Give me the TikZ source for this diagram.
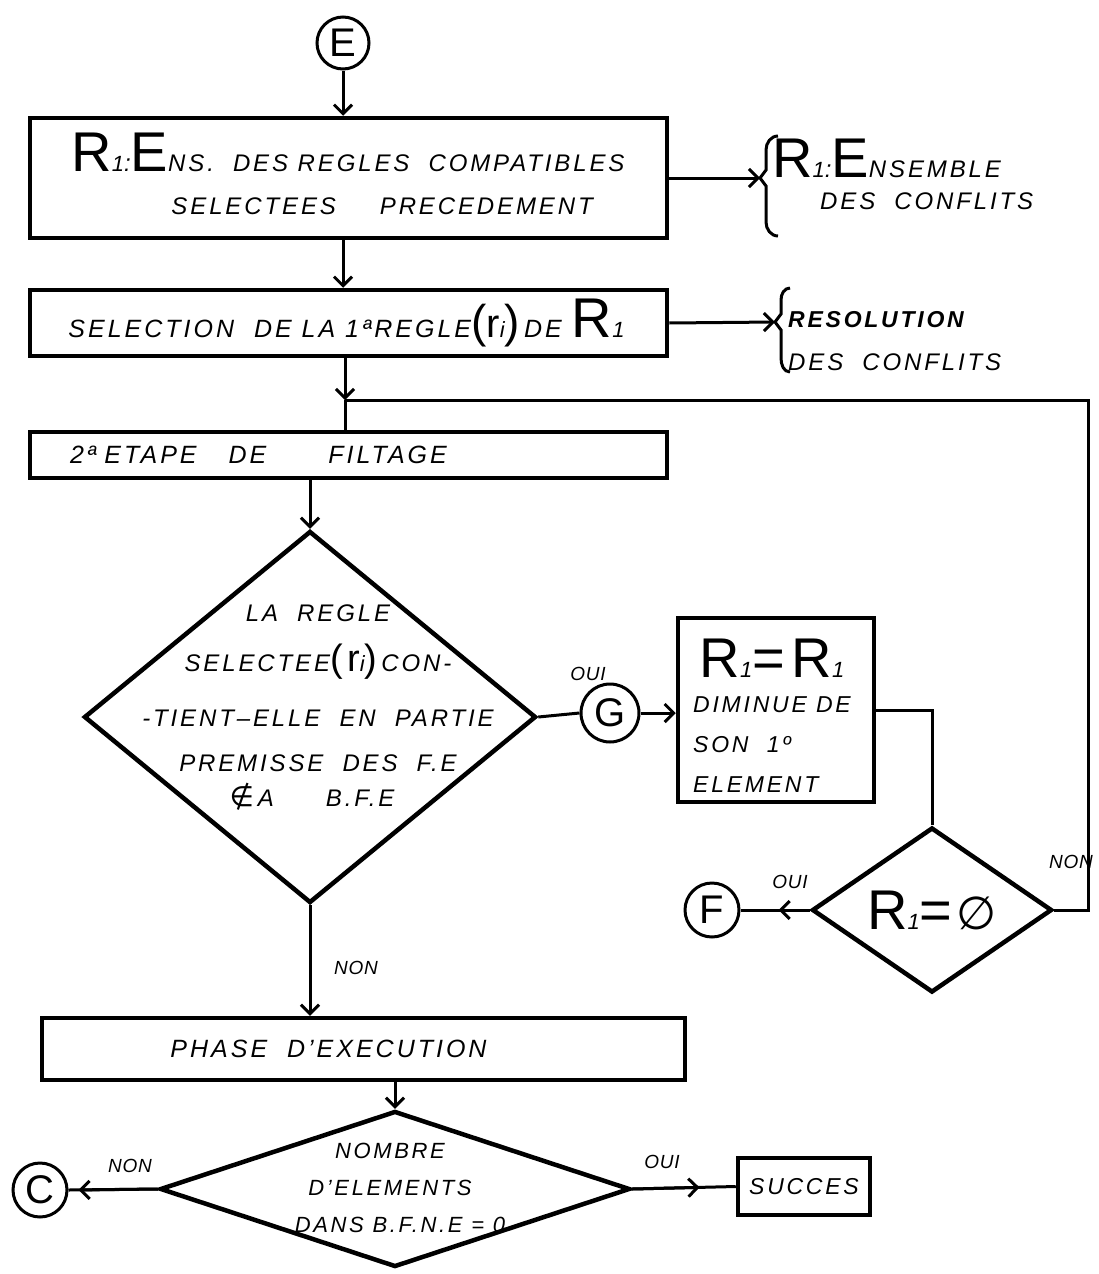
\documentclass[tikz,border=0pt]{standalone}
\usepackage{fontspec}
\setmainfont{Liberation Sans}[LetterSpace=12]
\newfontfamily\symfont{DejaVu Sans}
\newfontfamily\lblfont{Liberation Sans}[LetterSpace=4]
\usetikzlibrary{arrows.meta,shapes.geometric,calc}

% letter sizes used in the flowchart
\newcommand\bigL[1]{{\fontsize{56}{56}\selectfont\upshape #1}}
\newcommand\subL[1]{{\fontsize{22}{22}\selectfont\itshape #1}}
\newcommand\Rone{\bigL{R}\subL{1}}
\newcommand\fsz[1]{\fontsize{#1}{#1}\selectfont}

\begin{document}
\begin{tikzpicture}[x=1pt,y=-1pt,
  conn/.style={line width=3pt},
  arr/.style={conn,-{Straight Barb[length=9pt,width=18pt,line width=3pt]}},
  box/.style={draw,line width=4.5pt,inner sep=0pt},
  decision/.style={draw,diamond,line width=4.5pt,inner sep=0pt},
  txt/.style={inner sep=0pt,font=\fontsize{24}{30}\selectfont\itshape},
  lbl/.style={font=\lblfont\fontsize{19}{19}\selectfont\itshape},
  conncirc/.style={draw,circle,line width=3pt,inner sep=0pt,
    font=\fontsize{40}{40}\selectfont}]
\useasboundingbox (0,0) rectangle (1099,1274);

% ---- main column ----
\node[conncirc,minimum size=52pt] (E) at (343,43) {E};

\node[box,minimum width=637pt,minimum height=120pt] (b1) at (348.5,178) {};
\node[txt,align=left,font=\fontsize{24}{43}\selectfont\itshape] (b1t) at (348,174)
  {\Rone:\bigL{E}NS.\ \ DES REGLES\ \ COMPATIBLES\\
   \hspace*{100pt}SELECTEES\hspace{44pt}PRECEDEMENT};

\node[box,minimum width=637pt,minimum height=66pt,txt,font=\fontsize{25}{25}\selectfont\itshape] (b2) at (348.5,323)
  {\hspace*{-4pt}SELECTION\ \ DE LA\ 1ªREGLE{\fsz{46}\upshape(}{\fsz{40}\upshape r}\subL{i}{\fsz{46}\upshape)}\,DE\ \Rone};

\node[box,minimum width=637pt,minimum height=46pt,txt,font=\fontsize{25}{25}\selectfont\itshape,
  text width=597pt,align=left] (b3) at (348.5,455)
  {\hspace*{20pt}2ª ETAPE\hspace{32pt}DE\hspace{62pt}FILTAGE};

\node[decision,minimum width=452pt,minimum height=372pt] (d1) at (310,717) {};
\node[txt,align=center,font=\fontsize{24}{50}\selectfont\itshape] (d1t) at (318,708)
  {LA\ \ REGLE\\
   SELECTEE{\fsz{38}\upshape(r}\subL{i}{\fsz{38}\upshape)}\,CON-\\[5pt]
   -TIENT--ELLE\ \ EN\ \ PARTIE\\[-5pt]
   PREMISSE\ \ DES\ \ F.E\\[-15pt]
   {\symfont\fsz{28}∉}\,A\hspace{52pt}B.F.E\hspace*{12pt}};

\node[conncirc,minimum size=58pt] (G) at (610,713) {G};

\node[box,minimum width=196pt,minimum height=184pt] (b4) at (776,710) {};
\node[txt] (b4r) at (772,658) {\bigL{R}\subL{1}\bigL{=}\bigL{R}\subL{1}};
\node[txt,anchor=north west,align=left,font=\fontsize{23}{40}\selectfont\itshape] (b4t) at (693,696)
  {DIMINUE DE\\ SON\ \ 1º\\ ELEMENT};

\node[decision,minimum width=240pt,minimum height=165pt] (d2) at (932,910) {};
\node[txt] (d2t) at (932,910) {\bigL{R}\subL{1}\bigL{=}\,{\symfont\itshape\fsz{46}∅}};

\node[conncirc,minimum size=54pt] (F) at (712,910) {F};

\node[box,minimum width=643pt,minimum height=62pt,txt,font=\fontsize{25}{25}\selectfont\itshape] (b5) at (363.5,1049)
  {\hspace*{-70pt}PHASE\ \ D'EXECUTION};

\node[decision,minimum width=470pt,minimum height=156pt] (d3) at (395,1189) {};
\node[txt,align=center,font=\fontsize{22}{37}\selectfont\itshape] (d3t) at (390,1188)
  {NOMBRE\\ D'ELEMENTS\\ \hspace*{20pt}DANS\ B.F.N.E = 0};

\node[conncirc,minimum size=54pt] (C) at (40,1190) {C};

\node[box,minimum width=132pt,minimum height=57pt,txt,font=\fontsize{23}{23}\selectfont\itshape] (s) at (804,1186.5) {SUCCES};

% ---- side notes with braces ----
\coordinate (br1) at (760,178);
\draw[conn] (778,136) to[out=180,in=90] (766,150) -- (766,170) -- (br1) -- (766,186)
  -- (766,222) to[out=-90,in=180] (778,236);
\node[txt,anchor=west] (n1a) at (772,158) {\bigL{R}\subL{1}:\bigL{E}NSEMBLE};
\node[txt,anchor=west] (n1b) at (820,201) {DES\ \ CONFLITS};

\coordinate (br2) at (775,322);
\draw[conn] (790,288) to[out=180,in=90] (781,300) -- (781,314) -- (br2) -- (781,330)
  -- (781,358) to[out=-90,in=180] (790,372);
\node[txt,anchor=west,font=\fontsize{23}{23}\selectfont\bfseries\itshape] (n2a) at (788,320) {RESOLUTION};
\node[txt,anchor=west] (n2b) at (788,362) {DES\ \ CONFLITS};

% ---- connectors ----
\draw[arr] (E.south) -- (E.south |- b1.north);
\draw[arr] (b1.east) -- (br1);
\draw[arr] (b1.south -| E) -- (b2.north -| E);
\draw[arr] (b2.east) -- (br2);

\coordinate (j) at (345,400);
\coordinate (loop) at (1088,400);
\draw[arr] (b2.south -| j) -- (j);
\draw[conn] (j) -- (b3.north -| j);
\draw[conn] (d2.east) -| (loop) -- (j);

\draw[arr] (b3.south -| d1) -- (d1.north);
\draw[conn] (d1.east) -- (G.west);
\draw[arr] (G.east) -- (b4.west |- G.east);

\coordinate (k) at (d2.north |- b4.east);
\draw[conn] (b4.east) -- (k) -- (d2.north);

\draw[conn] (d2.west) -- (F.east);
\draw[arr] (d2.west) -- ($(d2.west)!0.45!(F.east)$);

\draw[arr] (d1.south) -- (d1.south |- b5.north);
\draw[arr] (b5.south -| d3) -- (d3.north);

\draw[conn] (d3.west) -- (C.east);
\draw[arr] (d3.west) -- ($(C.east)+(10,0)$);
\draw[conn] (d3.east) -- (s.west);
\draw[arr] (d3.east) -- ($(d3.east)!0.65!(s.west)$);

% ---- branch labels ----
\node[lbl] (oui1) at (588,674) {OUI};
\node[lbl] (non1) at (1071,862) {NON};
\node[lbl] (oui2) at (790,882) {OUI};
\node[lbl] (non2) at (356,968) {NON};
\node[lbl] (non3) at (130,1166) {NON};
\node[lbl] (oui3) at (662,1162) {OUI};
\end{tikzpicture}
\end{document}
